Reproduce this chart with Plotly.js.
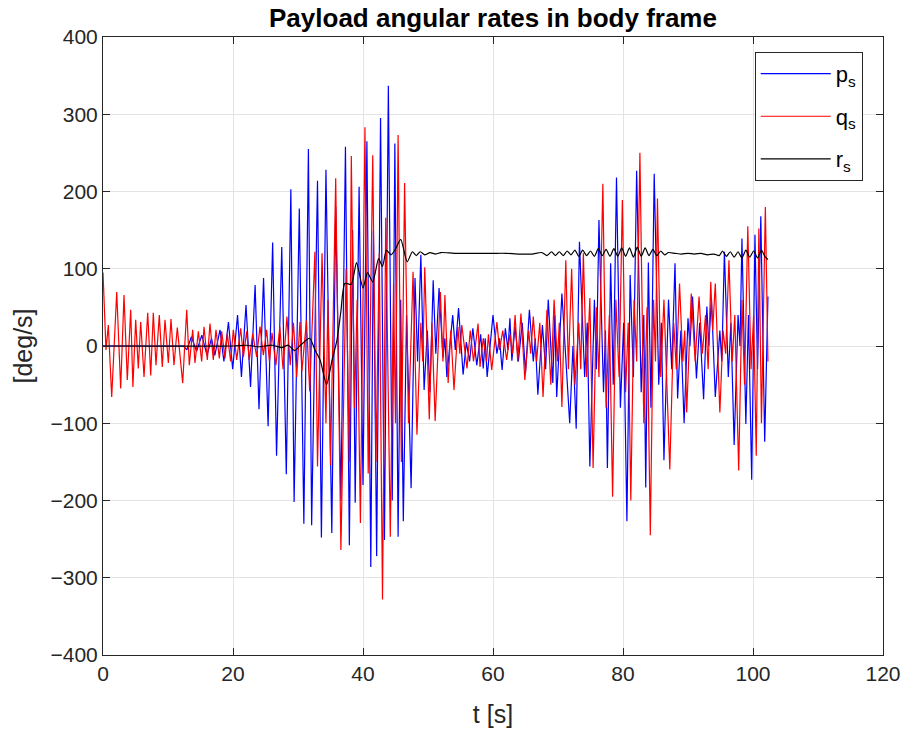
<!DOCTYPE html>
<html>
<head>
<meta charset="utf-8">
<script src="https://cdn.plot.ly/plotly-3.0.1.min.js"></script>
<style>html,body{margin:0;padding:0;background:#fff;}#chart{width:909px;height:735px;}</style>
</head>
<body>
<div id="chart"></div>
<script>
// p_s : extrema (time [s], value [deg/s])
const tP = [0,12.4,12.9,13.6,14.4,15.2,16.0,16.7,17.2,18.0,18.6,19.3,19.95,20.7,21.3,22.0,22.7,23.4,24.0,24.7,25.4,26.1,26.7,27.5,28.2,28.9,29.4,30.2,30.9,31.6,32.1,33.0,33.6,34.3,35.2,35.8,36.6,37.3,37.9,38.4,38.8,39.4,40.0,40.6,41.2,41.6,42.1,42.7,43.3,43.9,44.5,44.9,45.4,45.8,46.2,46.7,47.4,48.0,48.4,48.9,49.4,49.9,50.3,50.8,51.2,51.7,52.3,52.6,52.9,53.8,54.2,54.7,55.4,55.9,56.4,56.9,57.5,58.1,58.5,58.8,59.1,60.0,60.6,61.0,61.4,61.9,62.3,62.6,62.9,63.4,63.9,64.5,65.0,65.6,66.2,66.5,66.9,67.6,68.1,68.5,69.2,69.5,69.8,70.6,71.8,72.3,72.8,73.3,74.1,74.5,74.9,75.6,75.9,76.3,77.0,77.3,77.6,78.1,78.5,79.0,79.6,80.1,80.6,81.1,81.6,82.1,82.8,83.2,83.5,83.9,84.3,84.8,85.5,85.9,86.3,87.0,87.5,88.0,88.4,88.9,89.4,90.0,90.3,90.7,91.3,91.8,92.4,92.9,93.2,93.6,94.2,94.9,95.2,95.6,96.2,96.6,97.1,97.7,98.0,98.3,98.9,99.3,99.8,100.3,100.7,101.2,101.8,102.3];
const pS = [0,0,-5,12,-7,14,-12,10,-12,21,-20,31,-30,40,-40,53,-53,79,-82,88,-104,134,-142,128,-166,203,-202,178,-230,255,-232,214,-248,228,-242,180,-200,258,-258,150,-203,206,-180,265,-286,150,-272,295,-251,337,-200,262,-247,60,-227,40,-184,88,-20,118,-57,20,-60,85,-10,75,-15,10,-40,40,-5,49,-37,5,-20,23,-25,15,-29,10,-40,40,-10,10,-31,23,-5,36,-19,25,-20,30,-35,47,-20,10,-63,27,-30,60,-48,40,-66,68,-100,0,-107,135,-40,30,-156,60,-30,163,-60,20,-158,107,-50,218,-80,30,-227,92,-40,227,-60,40,-183,108,-80,223,-50,30,-148,60,-30,107,-68,20,-100,36,0,64,-42,30,-69,51,0,62,-66,20,-20,122,-40,30,-128,40,0,139,-101,40,-173,144,-30,168,-124,64];

// q_s
const tQ = [0,0.46,0.82,1.34,2.11,2.72,3.23,3.74,4.26,4.6,5.03,5.43,5.8,6.31,6.88,7.34,7.74,8.15,8.66,9.12,9.54,10.05,10.46,10.92,11.43,12.26,12.88,13.28,13.8,14.15,14.67,15.18,15.54,16.05,16.46,16.97,17.38,17.9,18.26,18.77,19.12,19.64,20.05,20.57,21.18,21.6,22.1,22.5,23.03,23.64,24.15,24.67,25.18,25.6,26.0,26.6,27.2,27.7,28.3,28.8,29.3,29.8,30.3,30.6,31.3,31.8,32.6,33.0,33.7,34.3,34.6,35.0,35.8,36.6,37.4,37.9,38.2,38.7,39.1,39.6,40.3,40.8,41.5,42.0,42.5,43.0,43.5,44.2,44.7,45.0,45.4,45.9,46.4,47.0,47.7,48.3,48.9,49.2,49.5,50.2,50.6,51.1,51.9,52.3,52.6,53.1,53.5,54.0,54.6,54.9,55.2,56.0,56.5,57.0,57.7,58.0,58.5,59.0,59.3,59.8,60.6,61.0,61.5,62.1,62.6,63.0,63.4,63.8,64.3,64.9,65.5,65.8,66.2,66.7,67.2,67.7,68.3,68.9,69.4,69.9,70.2,70.6,71.2,71.6,72.1,72.6,73.2,73.5,73.9,74.4,74.9,75.4,75.9,76.3,76.9,77.4,77.9,78.4,78.9,79.4,79.9,80.4,80.8,81.2,81.7,82.1,82.6,83.2,83.7,84.2,84.7,85.0,85.3,85.8,86.3,87.2,87.8,88.2,88.7,89.2,89.5,89.8,90.5,91.1,91.7,92.2,92.7,93.1,93.5,93.8,94.2,94.9,95.4,95.8,96.3,96.8,97.2,97.8,98.3,98.7,99.2,99.7,100.1,100.5,100.9,101.3,101.9,102.3];
const qS = [95,-5,27,-66,70,-55,66,-44,47,-53,34,-29,31,-40,43,-38,43,-25,40,-27,34,-22,35,-25,24,-48,47,-25,21,-22,19,-20,25,-18,29,-18,21,-16,19,-16,16,-20,21,-18,23,-14,19,-18,16,-14,25,-12,21,-20,17,-25,25,-30,38,-25,30,-40,31,-33,33,-59,122,-156,120,-100,60,-154,217,-264,100,-150,246,-80,60,-229,283,-165,247,-150,120,-328,166,-247,80,-100,273,-150,211,-100,96,-115,30,-20,102,-95,30,-97,70,-20,66,-48,20,-57,25,-10,27,-29,20,-20,29,-27,10,-20,15,-31,31,-5,20,-18,15,-10,40,-20,42,-44,20,-10,38,-20,30,-66,47,-50,60,-20,30,-79,111,-30,100,-50,30,-30,120,-40,62,-158,50,-40,210,-80,40,-195,60,-40,189,-60,30,-200,60,-20,250,-100,50,-245,60,-20,191,-40,60,-160,30,-30,81,-20,20,-86,68,-20,64,-10,40,-30,83,20,81,-86,20,-10,111,-20,40,-161,60,-50,155,-30,40,-142,152,-100,180,-20];

// r_s
const tR = [0,20,22,24,26,27.5,28.5,29.5,30.5,31.8,32.6,33.4,34.4,35.2,36.0,36.6,37.2,38.2,39.0,40.0,40.7,41.5,42.4,43.0,43.6,44.3,44.9,45.8,46.8,47.6,48.2,48.8,49.5,50.3,51.2,52,54,56,58,60,62,64,66,67.5,68.3,69,69.6,70.2,70.8,71.4,72.0,72.6,73.2,73.8,74.4,75.0,75.6,76.2,76.8,77.4,78.0,78.6,79.2,79.8,80.4,81.0,81.6,82.2,82.8,83.4,84.0,84.6,85.2,85.8,86.4,87.0,88,89,90,91,92,93,94,94.8,95.3,95.9,96.5,97.1,97.7,98.3,98.9,99.5,100.1,100.7,101.3,101.9,102.3];
const rS = [0,0,1,-1,1,-2,1,-6,2,10,-5,-18,-50,-20,8,45,81,80,108,75,95,83,113,103,124,118,124,138,109,122,117,122,118,121,119,121,120,120,120,120,120,119,119,121,117,122,117,122,117,123,118,124,116,124,117,123,116,126,117,125,116,126,116,127,116,127,115,128,116,127,117,125,117,123,118,121,120,119,120,119,120,118,119,117,123,116,122,115,122,114,124,115,123,114,124,115,112];

const seriesNames = ['p<sub>s</sub>','q<sub>s</sub>','r<sub>s</sub>'];
const seriesColors = ['#0000ff','#ff0000','#000000'];
const seriesShapes = ['linear','linear','spline'];
const xTicks = [0,20,40,60,80,100,120];
const yTicks = [-400,-300,-200,-100,0,100,200,300,400];

const FONT = 'Liberation Sans, Arial, Helvetica, sans-serif';
const axisCommon = {
  showgrid: true, gridcolor: '#e3e3e3', gridwidth: 1,
  zeroline: false, showline: true, linecolor: '#262626', linewidth: 1,
  mirror: 'ticks', ticks: 'inside', ticklen: 7, tickcolor: '#262626',
  tickfont: {family: FONT, size: 21, color: '#262626'},
  tickmode: 'array', automargin: false
};

const traces = [
  {x: tP, y: pS}, {x: tQ, y: qS}, {x: tR, y: rS}
].map((d, i) => ({
  type: 'scatter', mode: 'lines', x: d.x, y: d.y,
  name: seriesNames[i], legendgroup: 'g' + i,
  line: {color: seriesColors[i], width: 1.2, shape: seriesShapes[i], smoothing: 0.6}
}));

const layout = {
  width: 909, height: 735,
  paper_bgcolor: '#ffffff', plot_bgcolor: '#ffffff',
  margin: {l: 103, r: 26, t: 37, b: 80},
  font: {family: FONT, color: '#262626'},
  title: {text: '<b>Payload angular rates in body frame</b>', font: {family: FONT, size: 26, color: '#000000'},
          x: 0.5, xref: 'paper', y: 1 - 18/735, yref: 'container', yanchor: 'middle'},
  xaxis: Object.assign({}, axisCommon, {range: [0, 120], tickvals: xTicks,
          title: {text: 't [s]', font: {family: FONT, size: 25, color: '#262626'}, standoff: 21}}),
  yaxis: Object.assign({}, axisCommon, {range: [-400, 400], tickvals: yTicks,
          title: {text: '[deg/s]', font: {family: FONT, size: 25, color: '#262626'}, standoff: 10}}),
  showlegend: true,
  legend: {x: 0.974, xanchor: 'right', y: 0.976, yanchor: 'top',
           bgcolor: '#ffffff', bordercolor: '#262626', borderwidth: 1,
           font: {family: FONT, size: 22, color: '#000000'},
           traceorder: 'grouped', tracegroupgap: 11, itemwidth: 70}
};

Plotly.newPlot('chart', traces, layout, {displayModeBar: false, staticPlot: true});
</script>
</body>
</html>
